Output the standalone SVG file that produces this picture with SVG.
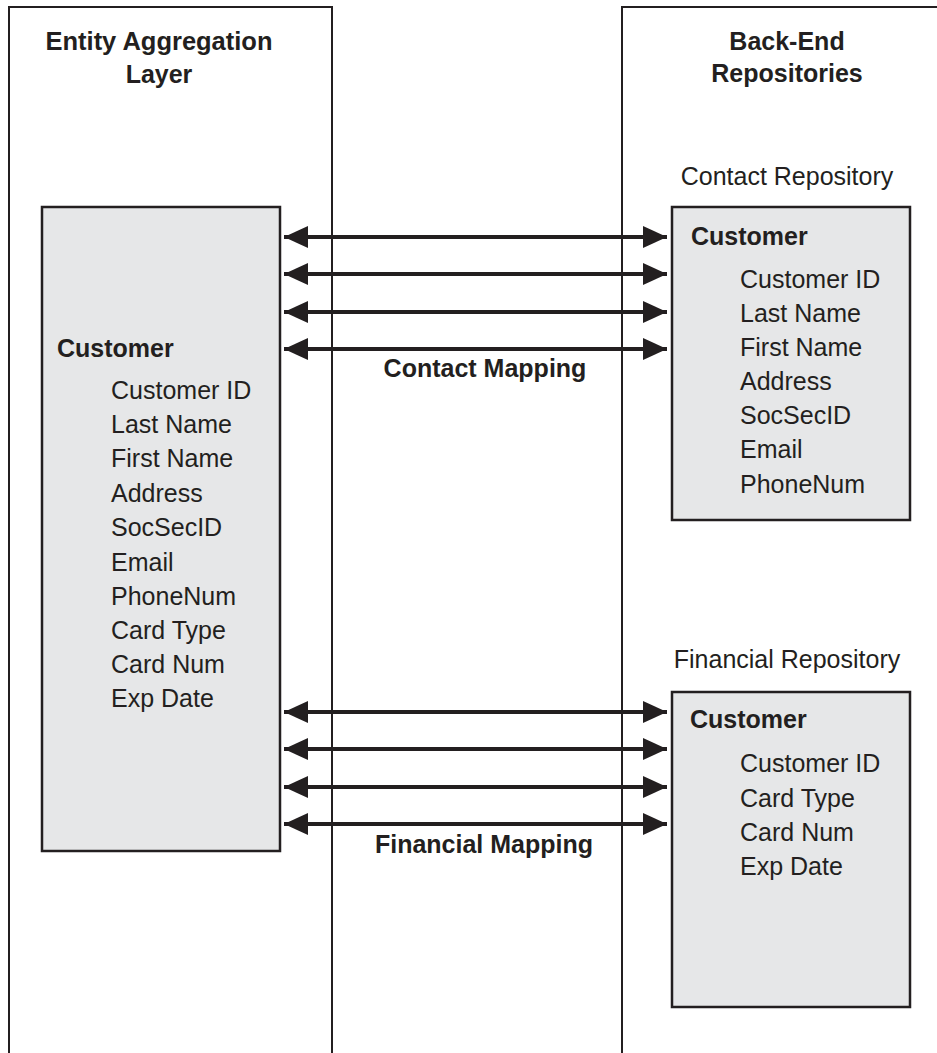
<svg xmlns="http://www.w3.org/2000/svg" width="937" height="1053" viewBox="0 0 937 1053">
  <style>
    text { font-family: "Liberation Sans", Arial, sans-serif; font-size: 25px; fill: #231f20; }
    .b { font-weight: bold; }
    .mid { text-anchor: middle; }
    .panel { fill: none; stroke: #231f20; stroke-width: 2; }
    .box { fill: #e6e7e8; stroke: #231f20; stroke-width: 2.5; }
    .arr { stroke: #231f20; stroke-width: 4; fill: none; marker-start: url(#ah); marker-end: url(#ah); }
  </style>
  <defs>
    <marker id="ah" markerUnits="userSpaceOnUse" markerWidth="25" markerHeight="24" refX="24" refY="12" orient="auto-start-reverse" viewBox="0 0 25 24">
      <path d="M0,1 L24,12 L0,23 z" fill="#231f20"/>
    </marker>
  </defs>
  <rect width="937" height="1053" fill="#ffffff"/>

  <g id="entity-layer">
    <rect class="panel" x="9" y="7" width="323" height="1070"/>
    <text class="b mid" x="159" y="50" textLength="227" lengthAdjust="spacingAndGlyphs">Entity Aggregation</text>
    <text class="b mid" x="159" y="83">Layer</text>
  </g>

  <g id="backend">
    <rect class="panel" x="622" y="7" width="340" height="1070"/>
    <text class="b mid" x="787" y="50">Back-End</text>
    <text class="b mid" x="787" y="82">Repositories</text>
  </g>

  <g id="aggregate-customer">
    <rect class="box" x="42" y="207" width="238" height="644"/>
    <text class="b" x="57" y="357">Customer</text>
    <text x="111" y="399">Customer ID</text>
    <text x="111" y="433">Last Name</text>
    <text x="111" y="467">First Name</text>
    <text x="111" y="502">Address</text>
    <text x="111" y="536">SocSecID</text>
    <text x="111" y="571">Email</text>
    <text x="111" y="605">PhoneNum</text>
    <text x="111" y="639">Card Type</text>
    <text x="111" y="673">Card Num</text>
    <text x="111" y="707">Exp Date</text>
  </g>

  <g id="contact-repository">
    <text class="mid" x="787" y="185">Contact Repository</text>
    <rect class="box" x="672" y="207" width="238" height="313"/>
    <text class="b" x="691" y="245">Customer</text>
    <text x="740" y="288">Customer ID</text>
    <text x="740" y="322">Last Name</text>
    <text x="740" y="356">First Name</text>
    <text x="740" y="390">Address</text>
    <text x="740" y="424">SocSecID</text>
    <text x="740" y="458">Email</text>
    <text x="740" y="493">PhoneNum</text>
  </g>

  <g id="financial-repository">
    <text class="mid" x="787" y="668">Financial Repository</text>
    <rect class="box" x="672" y="692" width="238" height="315"/>
    <text class="b" x="690" y="728">Customer</text>
    <text x="740" y="772">Customer ID</text>
    <text x="740" y="807">Card Type</text>
    <text x="740" y="841">Card Num</text>
    <text x="740" y="875">Exp Date</text>
  </g>

  <g id="connectors">
    <line class="arr" x1="284" y1="237" x2="667" y2="237"/>
    <line class="arr" x1="284" y1="274" x2="667" y2="274"/>
    <line class="arr" x1="284" y1="312" x2="667" y2="312"/>
    <line class="arr" x1="284" y1="349" x2="667" y2="349"/>
    <text class="b mid" x="485" y="377">Contact Mapping</text>
    <line class="arr" x1="284" y1="712" x2="667" y2="712"/>
    <line class="arr" x1="284" y1="749" x2="667" y2="749"/>
    <line class="arr" x1="284" y1="787" x2="667" y2="787"/>
    <line class="arr" x1="284" y1="824" x2="667" y2="824"/>
    <text class="b mid" x="484" y="853">Financial Mapping</text>
  </g>
</svg>
